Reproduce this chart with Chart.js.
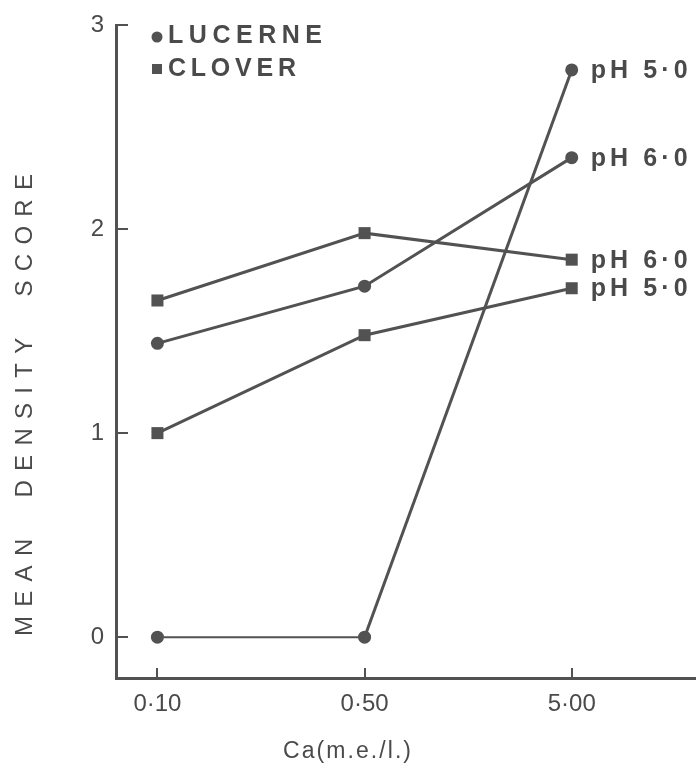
<!DOCTYPE html>
<html><head><meta charset="utf-8">
<script src="https://cdn.jsdelivr.net/npm/chart.js@4/dist/chart.umd.min.js"></script>
<style>html,body{margin:0;padding:0;background:#fff;} canvas{display:block;}</style>
</head><body>
<canvas id="c" width="696" height="772"></canvas>
<script>
// ---- data ----
const categories = ['0·10', '0·50', '5·00'];
const yTickValues = [0, 1, 2, 3];
const lucernePH5 = [0, 0, 2.78];
const lucernePH6 = [1.44, 1.72, 2.35];
const cloverPH6 = [1.65, 1.98, 1.85];
const cloverPH5 = [1.00, 1.48, 1.71];
const seriesNames = ['pH 5·0', 'pH 6·0', 'pH 6·0', 'pH 5·0'];
const legendNames = ['LUCERNE', 'CLOVER'];
const xTitle = 'Ca(m.e./l.)';
const yTitle = 'MEAN  DENSITY  SCORE';

const INK = '#4a4a4a';
const LINE = '#525252';

function toXY(arr) { return arr.map((v, i) => ({ x: i, y: v })); }

function drawSpaced(ctx, text, x, y, font, target, align) {
  ctx.save();
  ctx.font = font;
  ctx.letterSpacing = '0px';
  const w0 = ctx.measureText(text).width;
  const n = text.length;
  const sp = n > 1 ? Math.max(0, (target - w0) / (n - 1)) : 0;
  ctx.letterSpacing = sp + 'px';
  ctx.textAlign = 'left';
  ctx.textBaseline = 'middle';
  let lx = x;
  if (align === 'center') lx = x - target / 2;
  ctx.fillText(text, lx, y);
  ctx.restore();
}

const decor = {
  id: 'decor',
  afterLayout(chart) {
    // stretch the plot area to the right edge of the canvas
    const xs = chart.scales.x, a = chart.chartArea;
    a.right = chart.width; a.width = a.right - a.left;
    xs.right = chart.width; xs.width = xs.right - xs.left;
    xs.configure();
  },
  beforeDatasetsDraw(chart) {
    const ctx = chart.ctx, xs = chart.scales.x, ys = chart.scales.y;
    ctx.save();
    ctx.strokeStyle = LINE;
    ctx.lineWidth = 2;
    ctx.beginPath();
    yTickValues.forEach(v => {
      const py = Math.round(ys.getPixelForValue(v));
      ctx.moveTo(ys.right, py); ctx.lineTo(ys.right + 12, py);
    });
    categories.forEach((c, i) => {
      const px = Math.round(xs.getPixelForValue(i));
      ctx.moveTo(px, xs.top); ctx.lineTo(px, xs.top - 10);
    });
    ctx.stroke();
    ctx.restore();
  },
  afterDatasetsDraw(chart) {
    const ctx = chart.ctx;
    ctx.save();
    ctx.fillStyle = INK;
    // end-of-line labels
    chart.data.datasets.forEach((ds, i) => {
      const meta = chart.getDatasetMeta(i);
      const last = meta.data[meta.data.length - 1];
      drawSpaced(ctx, seriesNames[i], last.x + 19, last.y + 1, 'bold 25px "Liberation Sans"', 97, 'left');
    });
    // legend
    const ca = chart.chartArea;
    ctx.fillStyle = LINE;
    ctx.beginPath(); ctx.arc(ca.left + 41, ca.top + 12, 5.5, 0, Math.PI * 2); ctx.fill();
    ctx.fillRect(ca.left + 36, ca.top + 39, 10, 10);
    ctx.fillStyle = INK;
    drawSpaced(ctx, legendNames[0], ca.left + 52, ca.top + 11, 'bold 25px "Liberation Sans"', 154, 'left');
    drawSpaced(ctx, legendNames[1], ca.left + 52, ca.top + 44, 'bold 25px "Liberation Sans"', 128, 'left');
    // axis titles
    drawSpaced(ctx, xTitle, 347, 752, '23px "Liberation Sans"', 128, 'center');
    ctx.save();
    ctx.translate(25, 405);
    ctx.rotate(-Math.PI / 2);
    drawSpaced(ctx, yTitle, 0, 0, '24px "Liberation Sans"', 462, 'center');
    ctx.restore();
    ctx.restore();
  }
};

function ds(label, arr, style, radius) {
  return {
    label, data: toXY(arr),
    borderColor: LINE, backgroundColor: LINE,
    pointBackgroundColor: LINE, pointBorderColor: LINE, pointBorderWidth: 0,
    borderWidth: 3, pointStyle: style, pointRadius: radius,
    tension: 0, fill: false, clip: false
  };
}

const dsL5 = ds('Lucerne pH 5·0', lucernePH5, 'circle', 6.5);
dsL5.segment = { borderWidth: c => c.p0DataIndex === 0 ? 2 : 3 };

new Chart(document.getElementById('c'), {
  type: 'line',
  data: {
    datasets: [
      dsL5,
      ds('Lucerne pH 6·0', lucernePH6, 'circle', 6.5),
      ds('Clover pH 6·0', cloverPH6, 'rect', 8.5),
      ds('Clover pH 5·0', cloverPH5, 'rect', 8.5)
    ]
  },
  options: {
    responsive: false,
    animation: false,
    layout: { padding: { top: 25, right: 0, left: 0, bottom: 0 } },
    plugins: { legend: { display: false }, tooltip: { enabled: false } },
    scales: {
      x: {
        type: 'linear', min: -0.2, max: 2.6,
        afterBuildTicks: s => { s.ticks = categories.map((c, i) => ({ value: i })); },
        afterFit: s => { s.height = 94; s.paddingLeft = 0; s.paddingRight = 0; },
        grid: { display: true, drawOnChartArea: false, drawTicks: false },
        border: { display: true, color: LINE, width: 3 },
        ticks: {
          color: INK, padding: 12, maxRotation: 0, autoSkip: false,
          font: { family: 'Liberation Sans', size: 24 },
          callback: v => categories[v] ?? ''
        }
      },
      y: {
        type: 'linear', min: -0.2, max: 3,
        afterBuildTicks: s => { s.ticks = yTickValues.map(v => ({ value: v })); },
        afterFit: s => { s.width = 116; s.paddingTop = 0; s.paddingBottom = 0; },
        grid: { display: true, drawOnChartArea: false, drawTicks: false },
        border: { display: true, color: LINE, width: 3 },
        ticks: {
          color: INK, padding: 12,
          font: { family: 'Liberation Sans', size: 24 },
          callback: v => String(v)
        }
      }
    }
  },
  plugins: [decor]
});
</script>
</body></html>
